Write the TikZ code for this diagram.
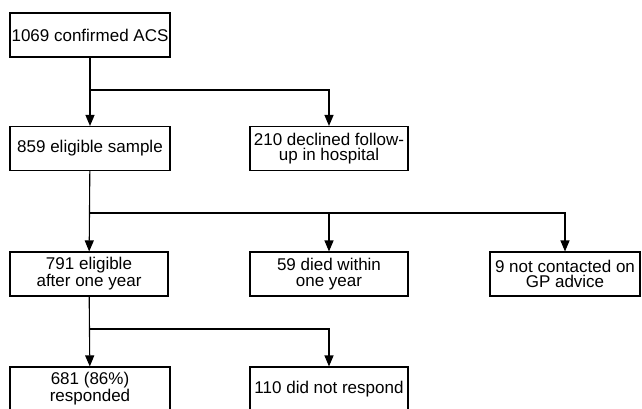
\documentclass[tikz,border=0pt]{standalone}
\usepackage{fontspec}
\setmainfont{Liberation Sans}
\usetikzlibrary{arrows.meta, positioning}

\begin{document}
\begin{tikzpicture}[
    x=1pt, y=-1pt,
    box/.style={draw, rectangle, line width=1.1pt, minimum width=160pt, minimum height=44pt, inner sep=0pt, align=center, font=\fontsize{17}{15.5}\selectfont},
    arr/.style={line width=1.1pt, -{Triangle[length=11pt,width=9pt]}},
]
    \useasboundingbox (0,0) rectangle (642,408);
    \node[box] (acs) at (90,35) {1069 confirmed ACS};
    \node[box] (sample) at (90,148.5) {859 eligible sample};
    \node[box, minimum width=158pt] (declined) at (329,148.5) {210 declined follow-\\up in hospital};
    \node[box, minimum width=158pt] (eligible) at (89,274) {791 eligible\\after one year};
    \node[box, minimum width=158pt] (died) at (329,274) {59 died within\\one year};
    \node[box, minimum width=150pt] (notcont) at (565,274) {9 not contacted on\\GP advice};
    \node[box] (resp) at (90,389) {681 (86\%)\\responded};
    \node[box, minimum width=158pt] (noresp) at (329,389) {110 did not respond};

    \coordinate (j1) at (90,90);
    \coordinate (j2) at (90,213);
    \coordinate (j3) at (90,329);

    \draw[arr] (acs) -- (sample);
    \draw[arr] (j1) -| (declined.north);
    \draw[arr] (sample) -- (eligible);
    \draw[arr] (j2) -| (died.north);
    \draw[arr] (j2) -| (notcont.north);
    \draw[arr] (eligible) -- (resp);
    \draw[arr] (j3) -| (noresp.north);
\end{tikzpicture}
\end{document}
